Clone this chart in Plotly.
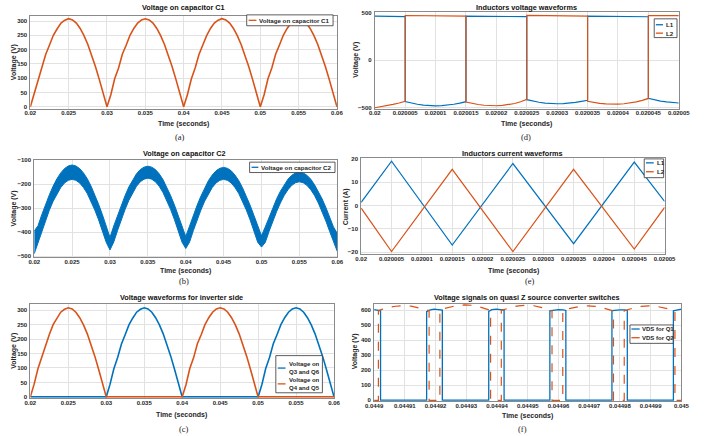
import plotly.graph_objects as go

W, H = 706, 436

# ---------------- data ----------------
# panels (a), (b), (c): sampled every 0.5 ms starting at 0.02 s
T_START, T_STEP = 0.02, 0.0005
vc1 = [0, 44, 97, 136, 183, 216, 250, 273, 293, 303, 308, 304, 293, 274, 249, 218, 181, 140, 95, 48,
       0, 42, 98, 135, 184, 215, 250, 274, 293, 304, 308, 304, 293, 274, 249, 218, 181, 140, 95, 48,
       0, 43, 97, 136, 183, 216, 249, 274, 293, 303, 308, 304, 293, 274, 249, 218, 181, 140, 95, 48,
       0, 42, 98, 136, 184, 216, 250, 274, 293, 304, 308, 304, 293, 274, 249, 218, 181, 140, 95, 48,
       0]
vc2_upper = [-395, -373, -327, -284, -244, -208, -177, -153, -135, -124, -120, -124, -135, -153, -177, -208, -244, -284, -327, -373,
             -422, -374, -329, -286, -247, -211, -181, -157, -139, -129, -125, -129, -139, -157, -181, -211, -247, -286, -329, -374,
             -418, -375, -330, -288, -250, -215, -185, -162, -144, -134, -130, -134, -144, -162, -185, -215, -250, -288, -330, -375,
             -415, -378, -337, -297, -261, -229, -202, -179, -163, -153, -150, -153, -163, -179, -202, -229, -261, -297, -337, -378,
             -405]
vc2_lower = [-490, -442, -394, -349, -308, -271, -239, -214, -195, -184, -180, -184, -195, -214, -239, -271, -308, -349, -394, -442,
             -474, -441, -393, -347, -305, -267, -235, -209, -190, -179, -175, -179, -190, -209, -235, -267, -305, -347, -393, -441,
             -468, -442, -394, -349, -308, -271, -239, -214, -195, -184, -180, -184, -195, -214, -239, -271, -308, -349, -394, -442,
             -462, -443, -397, -354, -314, -278, -247, -223, -205, -194, -190, -194, -205, -223, -247, -278, -314, -354, -397, -443,
             -480]
vq36 = [0, 0, 0, 0, 0, 0, 0, 0, 0, 0, 0, 0, 0, 0, 0, 0, 0, 0, 0, 0,
        0, 44, 97, 136, 183, 216, 250, 273, 293, 303, 308, 304, 293, 274, 249, 218, 181, 140, 95, 48,
        0, 0, 0, 0, 0, 0, 0, 0, 0, 0, 0, 0, 0, 0, 0, 0, 0, 0, 0, 0,
        0, 43, 98, 136, 184, 216, 250, 274, 293, 304, 308, 304, 293, 274, 249, 218, 181, 140, 95, 48,
        0]
vq45 = [0, 44, 97, 136, 183, 216, 250, 273, 293, 303, 308, 304, 293, 274, 249, 218, 181, 140, 95, 48,
        0, 0, 0, 0, 0, 0, 0, 0, 0, 0, 0, 0, 0, 0, 0, 0, 0, 0, 0, 0,
        0, 42, 98, 135, 184, 215, 250, 274, 293, 304, 308, 304, 293, 274, 249, 218, 181, 140, 95, 48,
        0, 0, 0, 0, 0, 0, 0, 0, 0, 0, 0, 0, 0, 0, 0, 0, 0, 0, 0, 0,
        0]

# panel (d): inductor voltages, time in microseconds after 0.02 s
T_D0 = 0.02
l1v_us = [0, 2.5, 5, 5, 6, 7, 8, 9, 10, 11, 12, 13, 14, 15, 15, 20, 25, 25, 26, 27, 28, 29, 30, 31, 32, 33, 34, 35,
          35, 40, 45, 45, 46, 47, 48, 49, 50]
l1v = [465, 463, 460, -435, -451, -463, -472, -478, -480, -478, -472, -463, -451, -436, 466, 463, 460, -415, -430, -442,
       -451, -456, -458, -456, -451, -443, -433, -422, 465, 462, 459, -400, -417, -430, -439, -446, -450]
l2v_us = [0, 1, 2, 3, 4, 5, 5, 10, 15, 15, 16, 17, 18, 19, 20, 21, 22, 23, 24, 25, 25, 30, 35, 35,
          36, 37, 38, 39, 40, 41, 42, 43, 44, 45, 45, 50]
l2v = [-500, -490, -478, -465, -450, -432, 472, 469, 465, -440, -455, -466, -474, -478, -479, -476, -468, -455, -437,
       -412, 473, 470, 466, -432, -444, -453, -459, -462, -462, -458, -450, -438, -422, -402, 472, 470]

# panel (e): inductor currents
i_us = [0, 5, 15, 25, 35, 45, 50]
il1 = [1.4, 19.0, -16.9, 18.0, -16.3, 18.6, 1.8]
il2 = [-1.1, -19.7, 15.5, -19.7, 15.5, -18.6, -0.8]

# panel (f): switch voltages, time in microseconds after 0.0449 s
T_F0 = 0.0449
q1_us = [0, 1, 2.1, 2.1, 17.1, 17.1, 18, 19.5, 21, 22.2, 22.2, 37.3, 37.3, 38.3, 39.8, 41.3, 42.3, 42.3,
         57.2, 57.2, 58.5, 60, 61.5, 62.4, 62.4, 77.4, 77.4, 78.5, 80, 81.5, 82.4, 82.4, 97.4, 97.4, 98.5, 100]
q1_v = [603, 600, 596, 2, 2, 590, 600, 607, 605, 600, 2, 2, 592, 603, 607, 604, 600, 2,
        2, 596, 601, 603, 601, 598, 2, 2, 597, 600, 602, 601, 598, 2, 2, 595, 600, 606]
q2_us = [0, 1.4, 1.4, 3, 5, 7, 9.5, 12, 14, 16, 17.9, 17.9, 21.4, 21.4, 23, 25, 27, 29.5, 32, 34, 36, 37.9, 37.9,
         41.4, 41.4, 43, 45, 47, 49.5, 52, 54, 56, 57.9, 57.9, 61.4, 61.4, 63, 65, 67, 69.5, 72, 74, 76, 77.9, 77.9,
         81.4, 81.4, 83, 85, 87, 89.5, 92, 94, 96, 97.9, 97.9, 100]
q2_v = [0, 0, 598, 608, 619, 626, 630, 627, 619, 608, 596, 0, 0, 600, 612, 624, 631, 635, 632, 624, 612, 598, 0,
        0, 598, 610, 621, 628, 632, 629, 621, 610, 596, 0, 0, 597, 608, 618, 625, 628, 625, 617, 607, 595, 0,
        0, 596, 607, 618, 625, 628, 625, 618, 607, 594, 0, 0]

# tick labels
xt_ac = ["0.02", "0.025", "0.03", "0.035", "0.04", "0.045", "0.05", "0.055", "0.06"]
xt_de = ["0.02", "0.020005", "0.02001", "0.020015", "0.02002", "0.020025", "0.02003", "0.020035",
         "0.02004", "0.020045", "0.02005"]
xt_f = ["0.0449", "0.04491", "0.04492", "0.04493", "0.04494", "0.04495", "0.04496", "0.04497",
        "0.04498", "0.04499", "0.045"]
yt_a = [0, 50, 100, 150, 200, 250, 300]
yt_b = [-500, -400, -300, -200, -100]
yt_d = [-500, 0, 500]
yt_e = [-20, -10, 0, 10, 20]
yt_f = [0, 100, 200, 300, 400, 500, 600]

# ---------------- style ----------------
BLUE, ORANGE = "#0072BD", "#D95319"
FONT = "Liberation Sans"
TXT = "#262626"
GRID = "#e2e2e2"
AXC = "#8a8a8a"

t_abc = [T_START + i * T_STEP for i in range(len(vc1))]
d_x = lambda us: [T_D0 + u * 1e-6 for u in us]
f_x = lambda us: [T_F0 + u * 1e-6 for u in us]

fig = go.Figure()

def add(x, y, n, color, width, dash="solid", **kw):
    fig.add_trace(go.Scatter(x=x, y=y, mode="lines", xaxis=f"x{n}", yaxis=f"y{n}",
                             line=dict(color=color, width=width, dash=dash),
                             showlegend=False, hoverinfo="skip", **kw))

# (a)
add(t_abc, vc1, 1, ORANGE, 1.6)
# (d)
add(d_x(l1v_us), l1v, 2, BLUE, 1.2)
add(d_x(l2v_us), l2v, 2, ORANGE, 1.2)
# (b)
add(t_abc, vc2_lower, 3, BLUE, 1)
add(t_abc, vc2_upper, 3, BLUE, 1, fill="tonexty", fillcolor=BLUE)
# (e)
add(d_x(i_us), il1, 4, BLUE, 1.2)
add(d_x(i_us), il2, 4, ORANGE, 1.2)
# (c)
add(t_abc, vq36, 5, BLUE, 1.6)
add(t_abc, vq45, 5, ORANGE, 1.6)
# (f)
add(f_x(q1_us), q1_v, 6, BLUE, 1.3)
add(f_x(q2_us), q2_v, 6, ORANGE, 1.2, dash="dash")

# ---------------- axes ----------------
panels = [
    # n, x px, y px (top,bottom), x range, y range, x ticks, y ticks, x tick standoff
    (1, (22, 338), (13.3, 107.3), (0.02, 0.06), (-8, 317), xt_ac, yt_a, -2),
    (2, (377, 690.3), (9.3, 107.3), (0.02, 0.02005), (-514, 507), xt_de, yt_d, -2),
    (3, (26, 338.3), (159, 257.3), (0.02, 0.06), (-505, -100), xt_ac, yt_b, -2),
    (4, (363, 675.7), (156.7, 254.3), (0.02, 0.02005), (-20.9, 20.4), xt_de, yt_e, -2),
    (5, (22, 335), (304, 399.3), (0.02, 0.06), (-3, 323), xt_ac, yt_a, -1),
    (6, (376.3, 693), (304, 402.7), (0.0449, 0.045), (-5, 644), xt_f, yt_f, -1),
]
tickfont = dict(family=FONT, size=6, color=TXT, weight="bold")
common = dict(showline=True, mirror=True, linecolor=AXC, linewidth=1, showgrid=True,
              gridcolor=GRID, gridwidth=1, zeroline=False, ticks="", tickfont=tickfont,
              tickangle=0, fixedrange=True)
lay = {}
for n, xp, yp, xr, yr, xt, yt, xso in panels:
    sx = "" if n == 1 else str(n)
    lay[f"xaxis{sx}"] = dict(domain=[xp[0] / W, xp[1] / W], range=list(xr), anchor=f"y{n}",
                             tickvals=[float(s) for s in xt], ticktext=xt, ticklabelstandoff=xso, **common)
    lay[f"yaxis{sx}"] = dict(domain=[1 - yp[1] / H, 1 - yp[0] / H], range=list(yr), anchor=f"x{n}",
                             tickvals=yt, ticklabelstandoff=1, **common)

# ---------------- text ----------------
ann = []
def text(s, px, py, size, bold=True, angle=0, xanchor="center", family=FONT, color=TXT):
    ann.append(dict(text=(f"<b>{s}</b>" if bold else s), x=px / W, y=1 - py / H, xref="paper", yref="paper",
                    showarrow=False, xanchor=xanchor, yanchor="middle", textangle=angle,
                    font=dict(family=family, size=size, color=color)))

titles = [("Voltage on capacitor C1", 180, 5), ("Inductors voltage waveforms", 533, 4.5),
          ("Voltage on capacitor C2", 181, 152), ("Inductors current waveforms", 519, 152),
          ("Voltage waveforms for inverter side", 178, 298),
          ("Voltage signals on quasi Z source converter switches", 534, 298)]
for s, x, y in titles:
    text(s, x, y, 7.3, color="#111111")
for x, y in [(180, 122), (533, 122), (182, 271), (520, 271), (178, 417), (534, 418)]:
    text("Time (seconds)", x, y, 7)
for s, x, y in [("Voltage (V)", 5, 60), ("Voltage (V)", 358, 57), ("Voltage (V)", 5, 208),
                ("Current (A)", 347, 206), ("Voltage (V)", 5, 352), ("Voltage (V)", 357, 352)]:
    text(s, x, y, 7, angle=-90)
for s, x, y in [("(a)", 176, 136), ("(d)", 533, 136), ("(b)", 180, 281), ("(e)", 537, 281),
                ("(c)", 180, 431), ("(f)", 529, 431)]:
    text(s, x, y, 8.5, bold=False, family="Liberation Serif", color="#222222")

# legends (box, entries)
shapes = []
def legend(box, entries, lx0, lx1, tx, size=6.2):
    x0, y0, x1, y1 = box
    shapes.append(dict(type="rect", xref="paper", yref="paper", x0=x0 / W, x1=x1 / W,
                       y0=1 - y1 / H, y1=1 - y0 / H, fillcolor="white",
                       line=dict(color="#333333", width=0.8), layer="above"))
    for ly, color, dash, label, ty in entries:
        shapes.append(dict(type="line", xref="paper", yref="paper", x0=lx0 / W, x1=lx1 / W,
                           y0=1 - ly / H, y1=1 - ly / H, line=dict(color=color, width=1.3, dash=dash),
                           layer="above"))
        text(label, tx, ty, size, xanchor="left")

legend((245, 12, 334, 23), [(17.5, ORANGE, "solid", "Voltage on capacitor C1", 17.5)], 247, 255, 255.5)
legend((248, 161, 336, 171.5), [(166.2, BLUE, "solid", "Voltage on capacitor C2", 166.2)], 250, 257, 257.5)
legend((665, 16, 688.5, 35), [(22, BLUE, "solid", "L1", 22), (30.5, ORANGE, "solid", "L2", 30.5)], 666.7, 674, 674.8)
legend((654.7, 157.7, 674.7, 176.7), [(161.7, BLUE, "solid", "L1", 161.7), (170.7, ORANGE, "solid", "L2", 170.7)],
       656.5, 664.5, 665.5)
legend((275, 356.7, 323, 394.3), [(369.3, BLUE, "solid", "Voltage on<br>Q3 and Q6", 368.8),
                                  (385.3, ORANGE, "solid", "Voltage on<br>Q4 and Q5", 385.3)], 277, 285, 286.3,
       size=6)
legend((640, 325.7, 684.5, 344.3), [(329.8, BLUE, "solid", "VDS for Q1", 329.8),
                                    (338.6, ORANGE, "dash", "VDS for Q2", 338.6)], 641.5, 650, 650.8, size=6)

fig.update_layout(width=W, height=H, margin=dict(l=0, r=0, t=0, b=0), paper_bgcolor="white",
                  plot_bgcolor="white", showlegend=False, annotations=ann, shapes=shapes, **lay)
fig.write_html("out.html")
